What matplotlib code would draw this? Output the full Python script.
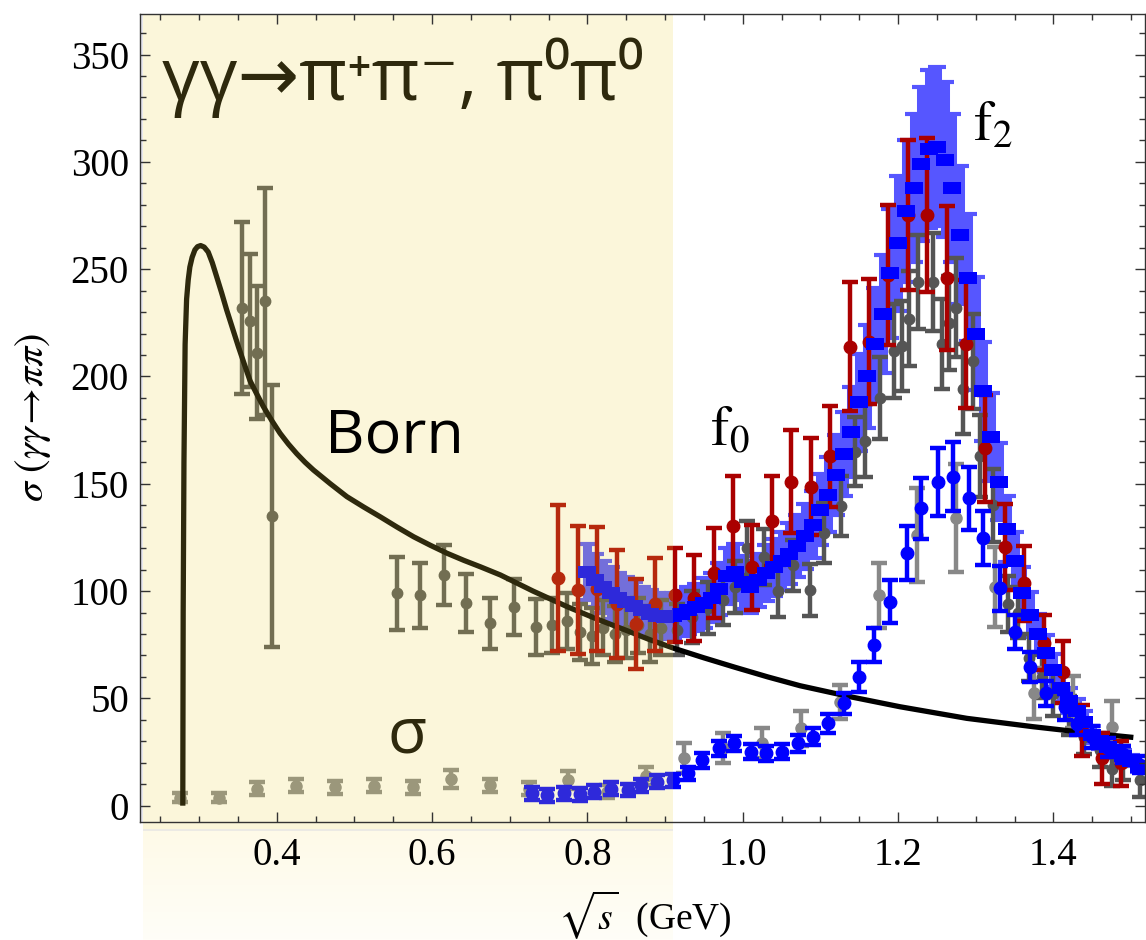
import numpy as np
import matplotlib
matplotlib.use("Agg")
import matplotlib.pyplot as plt
from matplotlib.path import Path

# ---------------- data ----------------
# Born (point-like pion) cross section
born_x = [0.2790, 0.2795, 0.2805, 0.2820, 0.2839, 0.2860, 0.2881, 0.2910, 0.2946,
          0.2980, 0.3020, 0.3065, 0.3117, 0.3170, 0.3226, 0.3290, 0.3355, 0.3430,
          0.3505, 0.3580, 0.3656, 0.3740, 0.3827, 0.3935, 0.4043, 0.4150, 0.4258,
          0.4365, 0.4473, 0.4690, 0.4903, 0.5118, 0.5333, 0.5550, 0.5763, 0.5980,
          0.6194, 0.6410, 0.6623, 0.6880, 0.7300, 0.7742, 0.8100, 0.8500, 0.8800,
          0.9118, 0.9500, 0.9900, 1.0323, 1.0738, 1.1380, 1.2026, 1.2885, 1.3740,
          1.4400, 1.5030]
born_y = [0, 90, 160, 215, 236, 245, 251, 255.5, 259,
          260.5, 261, 260.3, 258, 253, 246.5, 239, 231, 222.5,
          214, 206, 198, 192, 186, 179.5, 173.5, 168.5, 164,
          160, 156.4, 150, 144, 139.2, 134.6, 129.8, 125.3, 121.3,
          117.6, 114.3, 111.3, 107.5, 100, 92.7, 87.3, 81.7, 77.4,
          73.3, 68.9, 64.5, 60, 55.9, 50.8, 46.1, 40.7, 36.8,
          34.1, 31.8]

# gamma gamma -> pi+ pi- (Mark II type data, grey)
mk_x = [0.355, 0.365, 0.374, 0.385, 0.394, 0.555, 0.584, 0.615, 0.644, 0.674,
        0.705, 0.734, 0.755, 0.774, 0.791, 0.806, 0.820, 0.835, 0.850, 0.865,
        0.880, 0.895, 0.915, 0.935, 0.955, 0.975, 0.990, 1.005, 1.027, 1.045,
        1.065, 1.087, 1.105, 1.127, 1.144, 1.157, 1.177, 1.195, 1.205, 1.214,
        1.226, 1.245, 1.256, 1.265, 1.274, 1.284, 1.297, 1.305, 1.322, 1.342,
        1.355, 1.368, 1.385, 1.400, 1.420, 1.440, 1.460, 1.476, 1.490, 1.512]
mk_y = [232, 226, 211, 235, 135, 99, 98, 107.5, 94.6, 85,
        92.7, 83.4, 84, 86, 81, 79, 83, 80, 82, 84,
        80, 83, 82, 88, 92, 96, 102, 120, 116, 100,
        112, 100.5, 127, 139.6, 165, 170, 190, 212, 214, 227,
        244, 244, 215, 225, 232, 194, 207, 163, 140, 94,
        90, 69, 60, 52, 42, 32, 26, 17, 20, 12]
mk_e = [40, 31, 31, 53, 61, 17, 15, 14, 13.5, 12,
        13, 13, 13, 13, 13, 13, 13, 13, 13, 13,
        13, 13, 12, 12, 12, 12, 12, 12.5, 13, 12,
        12, 12, 14, 14, 16, 17, 19, 22, 21, 22,
        22, 23, 21, 22, 23, 21, 22, 19, 17, 13,
        12, 11, 10, 10, 9, 8, 8, 8, 8, 8]

# gamma gamma -> pi+ pi- (CELLO type data, red)
ce_x = [0.7625, 0.7875, 0.8125, 0.8375, 0.8625, 0.8875, 0.9125, 0.9375, 0.9625, 0.9875,
        1.0125, 1.0375, 1.0625, 1.0875, 1.1125, 1.1375, 1.1625, 1.1875, 1.2125, 1.2375,
        1.2625, 1.2875, 1.3125, 1.3375, 1.3625, 1.3875, 1.4125, 1.4375, 1.4625, 1.4875]
ce_y = [106, 100.5, 101, 94, 84.6, 93.8, 98.1, 96.6, 108.5, 130.3,
        111, 132.8, 151, 148.6, 162.9, 213.8, 216.2, 247.2, 275.2, 275.2,
        246, 215.1, 166.5, 120.6, 103.6, 76, 62.4, 35, 22, 19.7]
ce_e = [34, 30, 29, 25, 21, 21.5, 22, 20, 21, 23.5,
        20, 21, 24, 22.6, 23.5, 30, 29, 32.5, 35, 36,
        33.5, 30, 25, 20, 17.5, 13, 14.5, 12, 12, 10.5]

# gamma gamma -> pi+ pi- (Belle, blue rectangles with systematic band)
be_x = [0.80, 0.81, 0.82, 0.83, 0.84, 0.85, 0.86, 0.87, 0.88, 0.89,
        0.90, 0.91, 0.92, 0.93, 0.94, 0.95, 0.96, 0.97, 0.98, 0.99,
        1.00, 1.01, 1.02, 1.03, 1.04, 1.05, 1.06, 1.07, 1.08, 1.09,
        1.10, 1.11, 1.12, 1.13, 1.14, 1.15, 1.16, 1.17, 1.18, 1.19,
        1.20, 1.21, 1.22, 1.23, 1.24, 1.25, 1.26, 1.27, 1.28, 1.29,
        1.30, 1.31, 1.32, 1.33, 1.34, 1.35, 1.36, 1.37, 1.38, 1.39,
        1.40, 1.41, 1.42, 1.43, 1.44, 1.45, 1.46, 1.47, 1.48, 1.49,
        1.50, 1.51]
be_y = [109, 105, 102, 99, 97, 95, 93, 91, 89.5, 88.5,
        88, 88.5, 89.5, 91, 92.5, 94.5, 97, 101, 107, 109,
        104, 102, 105, 108.5, 111, 114, 117.5, 121, 125.5, 131,
        138, 145, 154, 164, 174, 188, 200, 215, 229, 248,
        262, 277, 288, 299, 306, 307, 301, 288, 266, 246,
        220, 193, 172, 151, 129, 114, 99, 89, 80, 71,
        63, 55, 49, 44, 39, 33, 30, 27.5, 25, 23,
        21, 18]
be_e = [13, 12.5, 12, 12, 11.5, 11.5, 11, 11, 11, 10.5,
        10.5, 10.5, 10.5, 11, 11, 11.5, 11.5, 12, 13, 13,
        12.5, 12, 12.5, 13, 13.5, 13.5, 14, 14.5, 15, 15.5,
        16.5, 17.5, 18.5, 19.5, 21, 22.5, 24, 26, 27.5, 30,
        31.5, 33, 34.5, 36, 37, 37, 36, 34.5, 32, 29.5,
        26.5, 23, 20.5, 18, 15.5, 13.5, 12, 10.5, 9.5, 8.5,
        7.5, 6.5, 6, 5.5, 5, 4, 3.5, 3.5, 3, 3,
        2.5, 2.5]

# gamma gamma -> pi0 pi0 (Crystal Ball type data, light grey)
cb_x = [0.275, 0.325, 0.375, 0.425, 0.475, 0.525, 0.575, 0.625, 0.675, 0.725,
        0.775, 0.825, 0.875, 0.925, 0.975, 1.025, 1.075, 1.125, 1.175, 1.225,
        1.275, 1.325, 1.375, 1.425, 1.475]
cb_y = [3.7, 3.7, 8.0, 9.3, 8.5, 9.3, 8.5, 12.4, 9.6, 8.0,
        12.0, 6.5, 13.8, 22.0, 26.7, 29.0, 36.0, 48.4, 98.0, 126.0,
        134.0, 102.0, 52.3, 48.4, 36.8]
cb_e = [2, 2, 3, 3, 3, 3, 3, 4, 3, 3,
        4, 3, 4, 7, 7, 7, 8, 8, 15, 22,
        25, 18.6, 12, 12, 12]

# gamma gamma -> pi0 pi0 (Belle, blue circles)
b0_x = [0.729, 0.748, 0.770, 0.791, 0.809, 0.830, 0.852, 0.869, 0.890, 0.910,
        0.929, 0.948, 0.970, 0.989, 1.011, 1.030, 1.050, 1.071, 1.090, 1.110,
        1.130, 1.150, 1.169, 1.190, 1.211, 1.230, 1.251, 1.271, 1.291, 1.310,
        1.331, 1.350, 1.370, 1.391, 1.415, 1.430, 1.450, 1.470, 1.490, 1.511]
b0_y = [5.7, 4.9, 5.7, 5.4, 6.5, 8.0, 7.3, 9.6, 11.1, 11.9,
        15.0, 21.2, 26.7, 29.0, 25.1, 24.4, 25.1, 29.0, 32.1, 38.4,
        47.7, 60.1, 74.8, 95.0, 117.6, 138.5, 150.9, 153.3, 143.2, 124.6,
        101.3, 81.0, 64.7, 52.3, 46, 38, 32, 27, 24, 19]
b0_e = [3, 3, 3, 3, 3, 3, 3, 3, 3, 3,
        3, 3.5, 3.5, 3.5, 3.5, 3.5, 3.5, 4, 4, 4.5,
        5, 7, 8, 10, 12.5, 14.4, 16, 16, 14.6, 12.5,
        10.5, 8, 7, 6, 6, 5, 5, 4.5, 4, 4]

x_ticks = [0.4, 0.6, 0.8, 1.0, 1.2, 1.4]
x_ticklabels = ["0.4", "0.6", "0.8", "1.0", "1.2", "1.4"]
y_ticks = [0, 50, 100, 150, 200, 250, 300, 350]
low_energy_edge = 0.91

# ---------------- figure ----------------
W, H, DPI = 1146, 940, 100
fig = plt.figure(figsize=(W / DPI, H / DPI), dpi=DPI)
fig.patch.set_facecolor("white")

ax_l, ax_r, ax_t, ax_b = 140, 1145, 14, 822
ax = fig.add_axes([ax_l / W, (H - ax_b) / H, (ax_r - ax_l) / W, (ax_b - ax_t) / H])
ax.set_zorder(1)
xmin, xmax = 0.2239, 1.518
ymin, ymax = -7.6, 368.9
ax.set_xlim(xmin, xmax)
ax.set_ylim(ymin, ymax)

# shaded low-energy band continued below the frame (soft fade)
px_per_gev = (ax_r - ax_l) / (xmax - xmin)
band_right_px = ax_l + (low_energy_edge - xmin) * px_per_gev
ax_bg = fig.add_axes([143 / W, 0, (band_right_px - 143) / W, (H - ax_b) / H])
ax_bg.set_zorder(0)
ax_bg.axis("off")
nrows = H - ax_b
grad = np.zeros((nrows, 1, 3))
for i in range(nrows):
    if i < 7:
        c = (251, 246, 217)
    elif i < 9:
        c = (236, 234, 228)
    else:
        t = (i - 9) / (nrows - 10)
        c = (254 + t * 1, 250 + t * 4, 232 + t * 16)
    grad[i, 0, :] = np.array(c) / 255.0
ax_bg.imshow(grad, aspect="auto", extent=(0, 1, 0, 1), interpolation="nearest")
ax_bg.set_xlim(0, 1)
ax_bg.set_ylim(0, 1)

grey_dark = "#555555"
grey_light = "#888888"
red = "#aa0000"
blue = "#0000ff"
blue_light = "#5656ff"
bar_lw = 3.2

# Belle pi+pi- systematic band
ax.errorbar(be_x, be_y, yerr=be_e, fmt="none", ecolor=blue_light,
            elinewidth=6.5, capsize=6.5, capthick=3, zorder=3)

# grey data sets
ax.errorbar(mk_x, mk_y, yerr=mk_e, fmt="o", color=grey_dark, ms=7.5,
            elinewidth=bar_lw, capsize=5.5, capthick=bar_lw, zorder=3.5)
ax.errorbar(cb_x, cb_y, yerr=cb_e, fmt="o", color=grey_light, ms=8,
            elinewidth=bar_lw, capsize=5.5, capthick=bar_lw, zorder=3.6)

# Born curve
ax.plot(born_x, born_y, color="black", lw=3.8, zorder=4,
        solid_capstyle="butt", solid_joinstyle="round")

# red pi+pi- data
ax.errorbar(ce_x, ce_y, yerr=ce_e, fmt="o", color=red, ms=9,
            elinewidth=bar_lw, capsize=6, capthick=bar_lw, zorder=5)

# Belle pi+pi- central values (flat rectangles)
rect = Path([(-1, -0.7), (1, -0.7), (1, 0.7), (-1, 0.7), (-1, -0.7)],
            [Path.MOVETO, Path.LINETO, Path.LINETO, Path.LINETO, Path.CLOSEPOLY])
ax.plot(be_x, be_y, linestyle="none", marker=rect, ms=12.5, color=blue,
        markeredgewidth=0, zorder=6)

# Belle pi0pi0 data
ax.errorbar(b0_x, b0_y, yerr=b0_e, fmt="o", color=blue, ms=9,
            elinewidth=bar_lw, capsize=5.5, capthick=bar_lw, zorder=6)

# labels living under the tint
ax.text(0.0219, 0.8936, "γγ→π⁺π⁻, π⁰π⁰", transform=ax.transAxes,
        family=["Open Sans", "DejaVu Sans"], fontsize=53, color="black",
        ha="left", va="baseline", zorder=15)
ax.text(0.2458, 0.0854, "σ", transform=ax.transAxes,
        family=["Open Sans", "DejaVu Sans"], fontsize=46, color="black",
        ha="left", va="baseline", zorder=15)

# yellow tint over the low-energy region
ax.axvspan(xmin + 3.0 / px_per_gev, low_energy_edge, color=(235 / 255, 214 / 255, 71 / 255),
           alpha=0.196, lw=0, zorder=20)
ax.axvspan(xmin, xmin + 3.0 / px_per_gev, color="#e6e6ee", lw=0, zorder=21)

# labels on top
ax.text(0.184, 0.4567, "Born", transform=ax.transAxes,
        family=["Open Sans", "DejaVu Sans"], fontsize=44, color="black",
        ha="left", va="baseline", zorder=25)
ax.text(0.567, 0.4666, r"$\mathrm{f}_0$", transform=ax.transAxes,
        math_fontfamily="stix", fontsize=40, color="black",
        ha="left", va="baseline", zorder=25)
ax.text(0.8289, 0.844, r"$\mathrm{f}_2$", transform=ax.transAxes,
        math_fontfamily="stix", fontsize=40, color="black",
        ha="left", va="baseline", zorder=25)

# axes styling
ax.set_xticks(x_ticks)
ax.set_xticklabels(x_ticklabels)
ax.set_yticks(y_ticks)
ax.set_xticks(np.arange(0.25, 1.52, 0.05), minor=True)
ax.set_yticks(np.arange(0, 369, 10), minor=True)
ax.tick_params(which="both", direction="in", top=True, right=True,
               color="#333333", width=1.0)
ax.tick_params(which="major", length=7.5)
ax.tick_params(which="minor", length=4.5)
ax.tick_params(axis="x", which="major", pad=11)
ax.tick_params(axis="y", which="major", pad=8)
for lab in ax.get_xticklabels() + ax.get_yticklabels():
    lab.set_fontfamily("Liberation Serif")
    lab.set_fontsize(28)
for sp in ax.spines.values():
    sp.set_color("#333333")
    sp.set_linewidth(1.0)
    sp.set_zorder(30)
ax.xaxis.set_zorder(30)
ax.yaxis.set_zorder(30)

fig.text(645 / W, 1 - 915 / H, r"$\sqrt{s}$  (GeV)", family="Liberation Serif",
         math_fontfamily="stix", fontsize=27, ha="center", va="center", zorder=5)
fig.text(33 / W, 1 - 417 / H, r"$\sigma\ (\gamma\gamma\!\rightarrow\!\pi\pi)$",
         math_fontfamily="stix", fontsize=29, rotation=90,
         ha="center", va="center", zorder=5)

fig.savefig("out.png", dpi=DPI, facecolor="white")
